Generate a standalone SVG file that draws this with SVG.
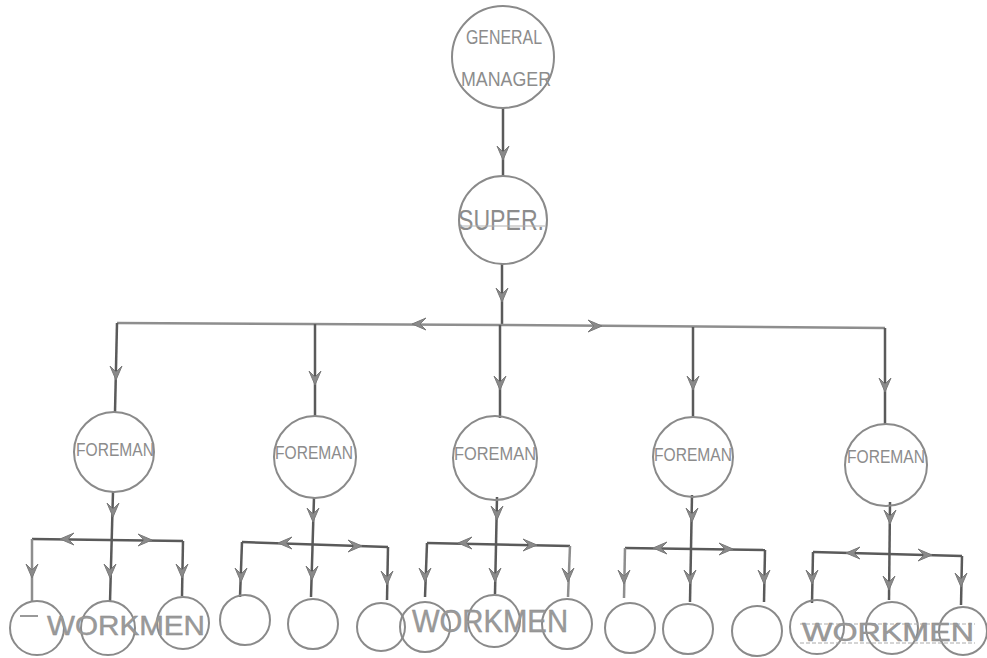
<svg xmlns="http://www.w3.org/2000/svg" width="987" height="658" viewBox="0 0 987 658">
<style>
.nd{fill:none;stroke:#8a8a8a;stroke-width:2}
.ln{stroke:#5a5a5a;stroke-width:2.5;fill:none}
.hl{stroke:#8e8e8e;stroke-width:2.5;fill:none}
.t{font-family:"Liberation Sans",Arial,sans-serif;fill:#8c8c8c;text-anchor:middle}
.wk{font-family:"Liberation Sans",Arial,sans-serif;fill:#9a9a9a;stroke:#8a8a8a;stroke-width:0.4}
.ah{fill:#8a8a8a;stroke:#7a7a7a;stroke-width:1}
</style>
<defs>
<path id="ad" d="M-6,-14 L0,0 L6,-14 L0,-8 Z"/>
<path id="ar" d="M-14,-6 L0,0 L-14,6 L-8,0 Z"/>
<path id="al" d="M14,-6 L0,0 L14,6 L8,0 Z"/>
</defs>
<rect width="987" height="658" fill="#ffffff"/>

<g id="connectors">
  <line class="ln" x1="503" y1="108" x2="503" y2="177" stroke-width="3.5"/>
  <use href="#ad" class="ah" x="503" y="160"/>
  <line class="ln" x1="502" y1="263" x2="502" y2="326"/>
  <use href="#ad" class="ah" x="502" y="302"/>
  <polyline class="hl" points="117,323 500,325 885,328"/>
  <use href="#al" class="ah" x="412" y="324"/>
  <use href="#ar" class="ah" x="602" y="326"/>
  <line class="ln" x1="117" y1="323" x2="115" y2="412"/>
  <use href="#ad" class="ah" x="116" y="380"/>
  <line class="ln" x1="315" y1="324" x2="315" y2="416"/>
  <use href="#ad" class="ah" x="315" y="385"/>
  <line class="ln" x1="500" y1="325" x2="500" y2="418"/>
  <use href="#ad" class="ah" x="500" y="390"/>
  <line class="ln" x1="693" y1="327" x2="693" y2="416"/>
  <use href="#ad" class="ah" x="693" y="390"/>
  <line class="ln" x1="885" y1="328" x2="885" y2="425"/>
  <use href="#ad" class="ah" x="885" y="392"/>

  <!-- group 1 -->
  <line class="ln" x1="113" y1="492" x2="110" y2="602"/>
  <use href="#ad" class="ah" x="113" y="517"/>
  <polyline class="ln" points="32,539 183,541"/>
  <use href="#al" class="ah" x="60" y="539"/>
  <use href="#ar" class="ah" x="152" y="540"/>
  <line class="hl" x1="32" y1="539" x2="32" y2="602"/>
  <use href="#ad" class="ah" x="32" y="578"/>
  <use href="#ad" class="ah" x="110" y="578"/>
  <line class="ln" x1="183" y1="541" x2="182" y2="596"/>
  <use href="#ad" class="ah" x="182" y="578"/>

  <!-- group 2 -->
  <line class="ln" x1="314" y1="497" x2="311" y2="597"/>
  <use href="#ad" class="ah" x="313" y="522"/>
  <polyline class="ln" points="242,542 388,547"/>
  <use href="#al" class="ah" x="278" y="543"/>
  <use href="#ar" class="ah" x="362" y="546"/>
  <line class="ln" x1="242" y1="542" x2="240" y2="597"/>
  <use href="#ad" class="ah" x="241" y="582"/>
  <use href="#ad" class="ah" x="312" y="580"/>
  <line class="ln" x1="388" y1="547" x2="387" y2="600"/>
  <use href="#ad" class="ah" x="387" y="585"/>

  <!-- group 3 -->
  <line class="ln" x1="497" y1="497" x2="495" y2="594"/>
  <use href="#ad" class="ah" x="497" y="520"/>
  <polyline class="ln" points="427,543 570,546"/>
  <use href="#al" class="ah" x="458" y="543"/>
  <use href="#ar" class="ah" x="537" y="545"/>
  <line class="ln" x1="427" y1="543" x2="425" y2="597"/>
  <use href="#ad" class="ah" x="425" y="582"/>
  <use href="#ad" class="ah" x="495" y="582"/>
  <line class="hl" x1="570" y1="546" x2="568" y2="597"/>
  <use href="#ad" class="ah" x="568" y="582"/>

  <!-- group 4 -->
  <line class="ln" x1="692" y1="495" x2="690" y2="602"/>
  <use href="#ad" class="ah" x="692" y="522"/>
  <polyline class="ln" points="625,548 765,550"/>
  <use href="#al" class="ah" x="653" y="548"/>
  <use href="#ar" class="ah" x="733" y="549"/>
  <line class="hl" x1="625" y1="548" x2="624" y2="598"/>
  <use href="#ad" class="ah" x="624" y="584"/>
  <use href="#ad" class="ah" x="690" y="584"/>
  <line class="ln" x1="765" y1="550" x2="764" y2="602"/>
  <use href="#ad" class="ah" x="764" y="584"/>

  <!-- group 5 -->
  <line class="ln" x1="890" y1="502" x2="889" y2="600"/>
  <use href="#ad" class="ah" x="890" y="524"/>
  <polyline class="ln" points="813,552 962,556"/>
  <use href="#al" class="ah" x="846" y="553"/>
  <use href="#ar" class="ah" x="932" y="555"/>
  <line class="ln" x1="813" y1="552" x2="812" y2="603"/>
  <use href="#ad" class="ah" x="812" y="584"/>
  <use href="#ad" class="ah" x="889" y="590"/>
  <line class="ln" x1="962" y1="556" x2="961" y2="605"/>
  <use href="#ad" class="ah" x="961" y="587"/>
</g>

<g id="gm">
  <circle class="nd" cx="503" cy="57" r="51"/>
  <text class="t" x="504" y="44" font-size="20" textLength="76" lengthAdjust="spacingAndGlyphs">GENERAL</text>
  <text class="t" x="506" y="86" font-size="20" textLength="90" lengthAdjust="spacingAndGlyphs">MANAGER</text>
</g>
<g id="super">
  <circle class="nd" cx="503" cy="220" r="44"/>
  <text class="t" x="501" y="230" font-size="29" textLength="86" lengthAdjust="spacingAndGlyphs">SUPER.</text>
  <line x1="460" y1="226" x2="545" y2="226" stroke="#b0b0b0" stroke-width="1"/>
</g>
<g id="f1">
  <circle class="nd" cx="114" cy="452" r="40"/>
  <text class="t" x="115" y="456" font-size="18" textLength="78" lengthAdjust="spacingAndGlyphs" fill="#6a6a6a">FOREMAN</text>
</g>
<g id="f2">
  <circle class="nd" cx="315" cy="457" r="41"/>
  <text class="t" x="314" y="459" font-size="18" textLength="78" lengthAdjust="spacingAndGlyphs">FOREMAN</text>
</g>
<g id="f3">
  <circle class="nd" cx="495" cy="458" r="42"/>
  <text class="t" x="495" y="460" font-size="18" textLength="82" lengthAdjust="spacingAndGlyphs">FOREMAN</text>
</g>
<g id="f4">
  <circle class="nd" cx="693" cy="457" r="40"/>
  <text class="t" x="693" y="461" font-size="18" textLength="78" lengthAdjust="spacingAndGlyphs" fill="#777">FOREMAN</text>
</g>
<g id="f5">
  <circle class="nd" cx="886" cy="465" r="41"/>
  <text class="t" x="886" y="463" font-size="18" textLength="78" lengthAdjust="spacingAndGlyphs">FOREMAN</text>
</g>

<g id="w1"><circle class="nd" cx="37" cy="628" r="27"/></g>
<g id="w2"><circle class="nd" cx="108" cy="628" r="27"/></g>
<g id="w3"><circle class="nd" cx="183" cy="623" r="26"/></g>
<g id="w4"><circle class="nd" cx="245" cy="620" r="25"/></g>
<g id="w5"><circle class="nd" cx="313" cy="624" r="25"/></g>
<g id="w6"><circle class="nd" cx="381" cy="627" r="24"/></g>
<g id="w7"><circle class="nd" cx="425" cy="627" r="25"/></g>
<g id="w8"><circle class="nd" cx="494" cy="621" r="26"/></g>
<g id="w9"><circle class="nd" cx="567" cy="624" r="25"/></g>
<g id="w10"><circle class="nd" cx="630" cy="628" r="25"/></g>
<g id="w11"><circle class="nd" cx="688" cy="629" r="25"/></g>
<g id="w12"><circle class="nd" cx="757" cy="631" r="25"/></g>
<g id="w13"><circle class="nd" cx="817" cy="627" r="27"/></g>
<g id="w14"><circle class="nd" cx="892" cy="628" r="26"/></g>
<g id="w15"><circle class="nd" cx="963" cy="631" r="24"/></g>

<g id="workmen-labels">
  <line x1="20" y1="616" x2="38" y2="616" stroke="#777" stroke-width="1.5"/>
  <text class="wk" x="47" y="635" font-size="28" textLength="158" lengthAdjust="spacingAndGlyphs">WORKMEN</text>
  <text class="wk" x="412" y="632" font-size="32" textLength="156" lengthAdjust="spacingAndGlyphs">WORKMEN</text>
  <line x1="800" y1="624" x2="975" y2="624" stroke="#aaa" stroke-width="1" stroke-dasharray="4 2"/>
  <line x1="800" y1="643" x2="975" y2="643" stroke="#aaa" stroke-width="1" stroke-dasharray="4 2"/>
  <text class="wk" x="802" y="641" font-size="25" textLength="172" lengthAdjust="spacingAndGlyphs">WORKMEN</text>
</g>
</svg>
